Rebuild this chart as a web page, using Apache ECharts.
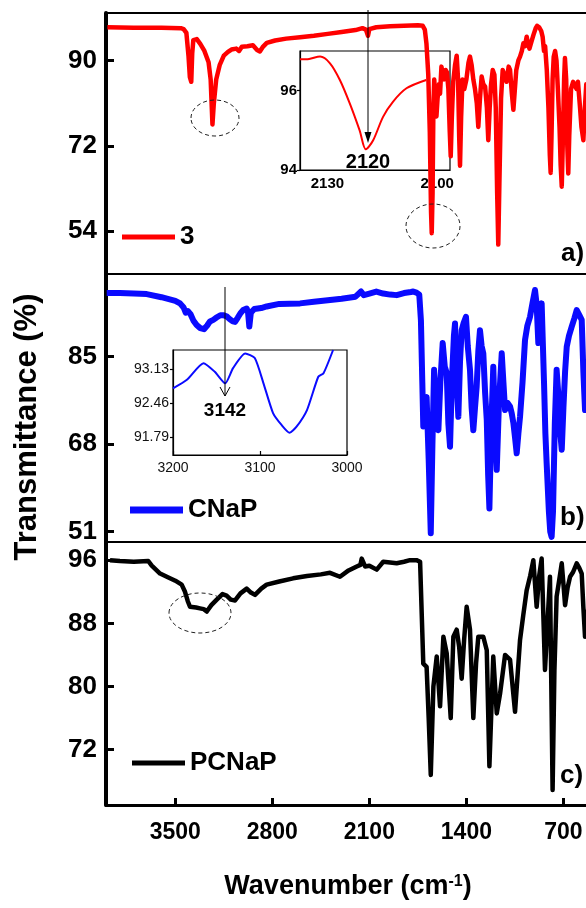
<!DOCTYPE html>
<html><head><meta charset="utf-8">
<script src="https://cdn.jsdelivr.net/npm/echarts@6/dist/echarts.min.js"></script>
<style>html,body{margin:0;padding:0;background:#fff}#c{width:586px;height:908px}</style>
</head><body><div id="c"></div>
<script>
const FONT = "'Liberation Sans', Arial, Helvetica, sans-serif";

// ---- tick labels ----
const xTicks = [3500, 2800, 2100, 1400, 700];
const yTicksA = [54, 72, 90];
const yTicksB = [51, 68, 85];
const yTicksC = [72, 80, 88, 96];
const insetATicksX = [2130, 2100];
const insetATicksY = [94, 96];
const insetBTicksX = [3200, 3100, 3000];
const insetBTicksY = [91.79, 92.46, 93.13];
const seriesNames = ['3', 'CNaP', 'PCNaP'];

// ---- spectrum a) "3" ----
const wnA = [3990,3800,3600,3460,3440,3420,3405,3395,3385,3378,
3370,3345,3320,3290,3260,3245,3232,3222,3205,3180,
3150,3120,3095,3060,3040,3020,2980,2940,2910,2890,
2870,2840,2780,2700,2600,2500,2400,2300,2200,2150,
2125,2110,2100,2050,1950,1850,1750,1715,1700,1688,
1675,1664,1655,1650,1644,1638,1632,1624,1616,1608,
1598,1590,1580,1570,1560,1550,1540,1530,1520,1513,
1505,1495,1482,1470,1460,1452,1446,1438,1428,1415,
1400,1385,1374,1362,1350,1338,1325,1314,1302,1290,
1278,1265,1252,1242,1232,1222,1210,1198,1188,1178,
1170,1162,1150,1138,1125,1110,1095,1085,1072,1061,
1050,1040,1025,1013,1000,989,978,965,955,945,
930,915,900,890,875,860,850,840,832,820,
808,798,792,786,778,770,760,750,740,728,
720,712,705,695,689,680,672,665,658,645,
630,616,605,595,580,570,556,545,535,520,
500,480,450,420,400];
const trA = [97.0,96.9,96.9,96.8,96.6,95.8,91.0,86.5,85.5,91.5,
94.3,94.5,93.5,92.0,89.6,86.0,76.5,81.0,86.0,89.0,
91.0,91.8,92.3,92.5,92.0,92.9,93.0,93.2,92.2,91.9,
92.8,93.7,94.2,94.6,94.9,95.2,95.6,96.0,96.4,96.8,
96.5,95.2,96.6,97.0,97.2,97.3,97.4,97.3,96.5,93.5,
87.0,75.0,58.0,53.6,62.0,80.0,86.0,82.0,78.2,82.0,
85.0,83.0,88.7,87.0,86.0,88.0,87.5,84.0,75.0,69.8,
78.0,85.5,89.0,91.0,86.0,74.0,67.8,78.0,86.0,84.0,
86.0,89.5,90.8,89.0,86.0,84.0,81.0,76.0,82.0,86.6,
85.0,84.5,80.0,73.2,80.0,85.0,88.0,87.0,80.0,62.0,
51.2,64.0,82.0,88.0,87.0,85.5,88.7,88.0,83.0,79.6,
84.0,88.0,90.0,90.8,92.0,93.6,93.0,95.0,93.5,92.5,
94.0,95.5,96.8,97.3,97.0,96.2,95.0,92.0,93.0,88.0,
80.0,70.0,66.3,74.0,86.0,90.8,92.0,90.0,84.0,76.0,
68.0,63.4,72.0,86.0,90.5,86.0,72.0,66.2,74.0,84.0,
85.5,85.9,84.0,85.5,80.0,76.0,73.2,80.0,85.0,84.0,
86.0,88.0,87.0,86.0,86.0];

// ---- spectrum b) "CNaP" ----
const wnB = [3995,3900,3800,3706,3600,3500,3466,3440,3425,3410,
3390,3370,3346,3320,3293,3270,3250,3226,3200,3175,
3154,3130,3110,3085,3069,3050,3030,3010,2985,2975,
2966,2955,2930,2880,2841,2750,2600,2500,2400,2300,
2200,2160,2140,2100,2050,2000,1950,1903,1850,1800,
1783,1760,
1740,1728,1718,1711,1700,1687,1672,1657,1645,1633,
1620,1602,1588,1571,1556,1542,1530,1518,1505,1490,
1482,1470,1458,1446,1434,1420,1403,1390,1374,1362,
1350,1338,1326,1314,1302,1290,1278,1265,1253,1243,
1234,1222,1206,1194,1181,1165,1145,1133,1121,1103,
1085,1073,1061,1048,1037,1025,1013,995,977,960,
941,922,905,893,881,870,857,840,830,821,
805,795,785,775,762,749,735,722,712,700,
688,676,660,640,620,604,585,568,556,544,
530,500,450,400];
const trB = [97.3,97.3,97.2,97.1,96.5,95.8,95.3,94.5,93.5,93.8,
93.2,92.0,91.1,90.5,90.3,91.0,91.8,92.1,92.6,93.0,
93.0,92.8,92.3,91.8,91.7,92.5,93.4,94.0,94.3,93.5,
90.8,93.5,94.2,94.4,94.7,95.2,95.3,95.6,95.9,96.2,
96.6,97.6,96.9,97.2,97.6,97.2,97.0,96.9,97.3,97.5,
97.6,97.4,
97.0,92.0,80.0,71.4,76.0,77.1,65.0,50.7,68.0,82.4,
76.0,70.7,80.0,87.6,83.0,81.8,72.0,67.5,80.0,89.0,
91.4,80.0,73.3,84.0,90.1,91.5,92.7,87.0,82.4,75.0,
70.7,75.0,79.1,86.0,90.1,87.0,85.6,78.0,72.7,62.0,
55.5,70.0,83.0,72.0,63.0,76.0,85.6,80.0,74.6,76.0,
75.3,74.0,72.1,69.0,66.2,70.0,73.3,80.0,88.2,91.0,
92.7,95.5,97.9,95.0,87.6,92.0,95.3,80.0,70.0,64.3,
55.0,51.0,50.0,55.0,72.0,82.4,77.0,70.0,66.9,75.0,
82.0,86.9,89.0,90.8,92.5,94.0,93.0,92.1,82.0,74.6,
80.0,85.0,86.0,86.0];

// ---- spectrum c) "PCNaP" ----
const wnC = [3971,3900,3800,3695,3670,3640,3610,3550,3500,3454,
3430,3410,3394,3350,3322,3295,3273,3240,3201,3160,
3130,3100,3069,3030,2985,2955,2925,2880,2841,2750,
2650,2550,2450,2384,2312,2250,2191,2165,2155,2131,
2100,2047,2000,1950,1903,1850,1807,1760,1734,
1711,1687,1672,1657,1638,1614,1590,1566,1542,1513,
1494,1470,1452,1434,1416,1398,1374,1350,1330,1314,
1278,1253,1234,1206,1181,1157,1121,1085,1049,1013,
990,965,940,917,893,875,857,833,815,797,
778,765,749,730,712,700,688,670,652,630,
604,585,568,556,544,520,480,440,400];
const trC = [96.0,95.9,95.8,95.9,95.3,94.8,94.3,93.8,93.4,92.9,
92.0,90.8,90.1,90.0,89.9,89.8,89.5,90.3,91.0,91.7,
91.5,91.0,90.9,91.8,92.4,91.9,91.6,92.4,92.9,93.3,
93.7,94.0,94.2,94.4,93.9,94.7,95.2,95.4,96.2,95.2,
95.3,94.8,95.8,95.7,95.6,95.8,96.0,96.0,95.8,
82.9,82.5,76.0,68.8,80.0,83.8,77.5,86.3,84.2,76.0,
86.3,87.2,85.0,81.0,86.0,90.1,87.2,76.0,83.0,86.3,
86.3,84.6,69.9,83.8,76.6,79.1,84.0,83.4,76.8,85.9,
89.0,92.2,94.0,96.0,90.1,94.0,96.2,82.1,88.0,93.9,
66.9,82.0,91.4,93.5,95.6,93.0,90.3,92.5,93.9,94.5,
95.6,95.0,94.3,90.0,86.3,90.0,91.0,91.0,91.0];

// ---- inset a) (2120 band) ----
const wnInsetA = [2137.5,2135,2132,2129.3,2126.6,2123.9,2121.2,2119.5,2117.5,2114.8,2112.1,2108.4,2103];
const trInsetA = [96.79,96.8,96.86,96.69,96.27,95.68,95.0,94.52,94.75,95.34,95.72,96.06,96.27];

// ---- inset b) (3142 band) ----
const wnInsetB = [3200,3184,3165,3152,3140,3131,3117,3106,3096,3085,3075,3066,3058,3046,3033,3027,3016];
const trInsetB = [92.75,92.92,93.25,93.08,92.85,93.15,93.44,93.35,92.85,92.26,92.02,91.87,91.99,92.32,92.98,93.05,93.51];

const pairs = (xs, ys) => xs.map((x, i) => [x, ys[i]]);
const plain = v => String(v);

const chart = echarts.init(document.getElementById('c'), null, {renderer: 'canvas'});

const mainGrid = (top, height) => ({left: 106, top: top, width: 499, height: height, show: true,
  outerBoundsMode: 'none', containLabel: false,
  borderColor: '#000', borderWidth: 2, backgroundColor: 'transparent'});
const insetGrid = (left, top, width, height) => ({left, top, width, height, show: true,
  outerBoundsMode: 'none', containLabel: false,
  borderColor: '#000', borderWidth: 1.2, backgroundColor: 'transparent'});

const mainX = (idx, showLabels) => ({
  type: 'value', gridIndex: idx, min: 400, max: 4000, inverse: true,
  splitLine: {show: false},
  axisLine: {show: showLabels, lineStyle: {color: '#000', width: 3}},
  axisTick: {show: showLabels, inside: true, length: 7, lineStyle: {width: 3, color: '#000'}, customValues: xTicks},
  axisLabel: {show: showLabels, customValues: xTicks, formatter: plain, fontSize: 23, fontWeight: 'bold', color: '#000', fontFamily: FONT, margin: 16}
});
const mainY = (idx, min, max, ticks) => ({
  type: 'value', gridIndex: idx, min, max,
  splitLine: {show: false},
  axisLine: {show: true, lineStyle: {color: '#000', width: 4}},
  axisTick: {show: true, inside: true, length: 8, lineStyle: {width: 3, color: '#000'}, customValues: ticks},
  axisLabel: {customValues: ticks, formatter: plain, fontSize: 26, fontWeight: 'bold', color: '#000', fontFamily: FONT, margin: 9}
});

const option = {
  animation: false,
  backgroundColor: '#fff',
  textStyle: {fontFamily: FONT},
  grid: [
    mainGrid(13, 261),
    mainGrid(274, 268),
    mainGrid(542, 263),
    insetGrid(300, 51, 150, 119),
    insetGrid(173, 350, 174, 105)
  ],
  xAxis: [
    mainX(0, false), mainX(1, false), mainX(2, true),
    {type: 'value', gridIndex: 3, min: 2096.5, max: 2137.5, inverse: true, splitLine: {show: false},
     axisLine: {show: true, lineStyle: {color: '#000', width: 1.2}},
     axisTick: {show: false},
     axisLabel: {customValues: insetATicksX, formatter: plain, fontSize: 15, fontWeight: 'bold', color: '#000', fontFamily: FONT, margin: 6}},
    {type: 'value', gridIndex: 4, min: 3000, max: 3200, inverse: true, splitLine: {show: false},
     axisLine: {show: true, lineStyle: {color: '#000', width: 1.2}},
     axisTick: {show: true, inside: true, length: 4, customValues: insetBTicksX, lineStyle: {color: '#000', width: 1.2}},
     axisLabel: {customValues: insetBTicksX, formatter: plain, fontSize: 14, color: '#111', fontFamily: FONT, margin: 6}}
  ],
  yAxis: [
    mainY(0, 45, 100, yTicksA),
    mainY(1, 49, 101, yTicksB),
    mainY(2, 65, 98.3, yTicksC),
    {type: 'value', gridIndex: 3, min: 94, max: 97, splitLine: {show: false},
     axisLine: {show: true, lineStyle: {color: '#000', width: 1.2}},
     axisTick: {show: true, length: 3, customValues: insetATicksY, lineStyle: {color: '#000', width: 1.2}},
     axisLabel: {customValues: insetATicksY, formatter: plain, fontSize: 15, fontWeight: 'bold', color: '#000', fontFamily: FONT, margin: 3}},
    {type: 'value', gridIndex: 4, min: 91.43, max: 93.51, splitLine: {show: false},
     axisLine: {show: true, lineStyle: {color: '#000', width: 1.2}},
     axisTick: {show: true, length: 3, customValues: insetBTicksY, lineStyle: {color: '#000', width: 1.2}},
     axisLabel: {customValues: insetBTicksY, formatter: v => Number(v).toFixed(2), fontSize: 14, color: '#111', fontFamily: FONT, margin: 4}}
  ],
  legend: [
    {data: [seriesNames[0]], left: 122, top: 224, padding: 0, icon: 'rect', itemWidth: 53, itemHeight: 5, selectedMode: false,
     textStyle: {fontSize: 26, fontWeight: 'bold', color: '#000', fontFamily: FONT}},
    {data: [seriesNames[1]], left: 130, top: 497, padding: 0, icon: 'rect', itemWidth: 53, itemHeight: 7, selectedMode: false,
     textStyle: {fontSize: 26, fontWeight: 'bold', color: '#000', fontFamily: FONT}},
    {data: [seriesNames[2]], left: 132, top: 750, padding: 0, icon: 'rect', itemWidth: 53, itemHeight: 5, selectedMode: false,
     textStyle: {fontSize: 26, fontWeight: 'bold', color: '#000', fontFamily: FONT}}
  ],
  series: [
    {type: 'line', name: seriesNames[0], xAxisIndex: 0, yAxisIndex: 0, data: pairs(wnA, trA), showSymbol: false, clip: true,
     itemStyle: {color: '#ff0000'}, lineStyle: {color: '#ff0000', width: 4.5, join: 'round'}},
    {type: 'line', name: seriesNames[1], xAxisIndex: 1, yAxisIndex: 1, data: pairs(wnB, trB), showSymbol: false, clip: true,
     itemStyle: {color: '#0a0aff'}, lineStyle: {color: '#0a0aff', width: 6, join: 'round'}},
    {type: 'line', name: seriesNames[2], xAxisIndex: 2, yAxisIndex: 2, data: pairs(wnC, trC), showSymbol: false, clip: true,
     itemStyle: {color: '#000'}, lineStyle: {color: '#000', width: 4.5, join: 'round'}},
    {type: 'line', name: 'insetA', xAxisIndex: 3, yAxisIndex: 3, data: pairs(wnInsetA, trInsetA), showSymbol: false, clip: true, smooth: 0.3,
     itemStyle: {color: '#ff0000'}, lineStyle: {color: '#ff0000', width: 2}},
    {type: 'line', name: 'insetB', xAxisIndex: 4, yAxisIndex: 4, data: pairs(wnInsetB, trInsetB), showSymbol: false, clip: true, smooth: 0.2,
     itemStyle: {color: '#0a0aff'}, lineStyle: {color: '#0a0aff', width: 2}}
  ],
  graphic: [
    {type: 'text', x: 27, y: 427, rotation: Math.PI / 2,
     style: {text: 'Transmittance (%)', fontSize: 31, fontWeight: 'bold', fontFamily: FONT, fill: '#000', align: 'center', verticalAlign: 'middle'}},
    {type: 'text', x: 348, y: 887,
     style: {text: '{a|Wavenumber (cm}{s|-1}{a|)}', align: 'center', verticalAlign: 'middle', fill: '#000',
       rich: {a: {fontSize: 27, fontWeight: 'bold', fontFamily: FONT, fill: '#000', color: '#000'},
              s: {fontSize: 16, fontWeight: 'bold', fontFamily: FONT, fill: '#000', color: '#000', verticalAlign: 'top'}}}},
    {type: 'text', x: 561, y: 254, style: {text: 'a)', fontSize: 26, fontWeight: 'bold', fontFamily: FONT, fill: '#000', align: 'left', verticalAlign: 'middle'}},
    {type: 'text', x: 560, y: 518, style: {text: 'b)', fontSize: 26, fontWeight: 'bold', fontFamily: FONT, fill: '#000', align: 'left', verticalAlign: 'middle'}},
    {type: 'text', x: 560, y: 776, style: {text: 'c)', fontSize: 26, fontWeight: 'bold', fontFamily: FONT, fill: '#000', align: 'left', verticalAlign: 'middle'}},
    {type: 'ellipse', shape: {cx: 215, cy: 118, rx: 24, ry: 18}, style: {fill: 'none', stroke: '#222', lineWidth: 1, lineDash: [4, 3]}, z: 10},
    {type: 'ellipse', shape: {cx: 433, cy: 226, rx: 27, ry: 22}, style: {fill: 'none', stroke: '#222', lineWidth: 1, lineDash: [4, 3]}, z: 10},
    {type: 'ellipse', shape: {cx: 200, cy: 613, rx: 31, ry: 20}, style: {fill: 'none', stroke: '#222', lineWidth: 1, lineDash: [4, 3]}, z: 10},
    {type: 'line', shape: {x1: 368, y1: 10, x2: 368, y2: 134}, style: {stroke: '#000', lineWidth: 1}, z: 10},
    {type: 'polygon', shape: {points: [[364.5, 132], [371.5, 132], [368, 143]]}, style: {fill: '#000'}, z: 10},
    {type: 'text', x: 368, y: 162, style: {text: '2120', fontSize: 20, fontWeight: 'bold', fontFamily: FONT, fill: '#000', align: 'center', verticalAlign: 'middle'}, z: 10},
    {type: 'line', shape: {x1: 225, y1: 287, x2: 225, y2: 396}, style: {stroke: '#000', lineWidth: 1}, z: 10},
    {type: 'polyline', shape: {points: [[220, 387], [225, 396], [230, 387]]}, style: {stroke: '#000', lineWidth: 1, fill: 'none'}, z: 10},
    {type: 'text', x: 225, y: 411, style: {text: '3142', fontSize: 19, fontWeight: 'bold', fontFamily: FONT, fill: '#000', align: 'center', verticalAlign: 'middle'}, z: 10}
  ]
};
chart.setOption(option);
</script></body></html>
